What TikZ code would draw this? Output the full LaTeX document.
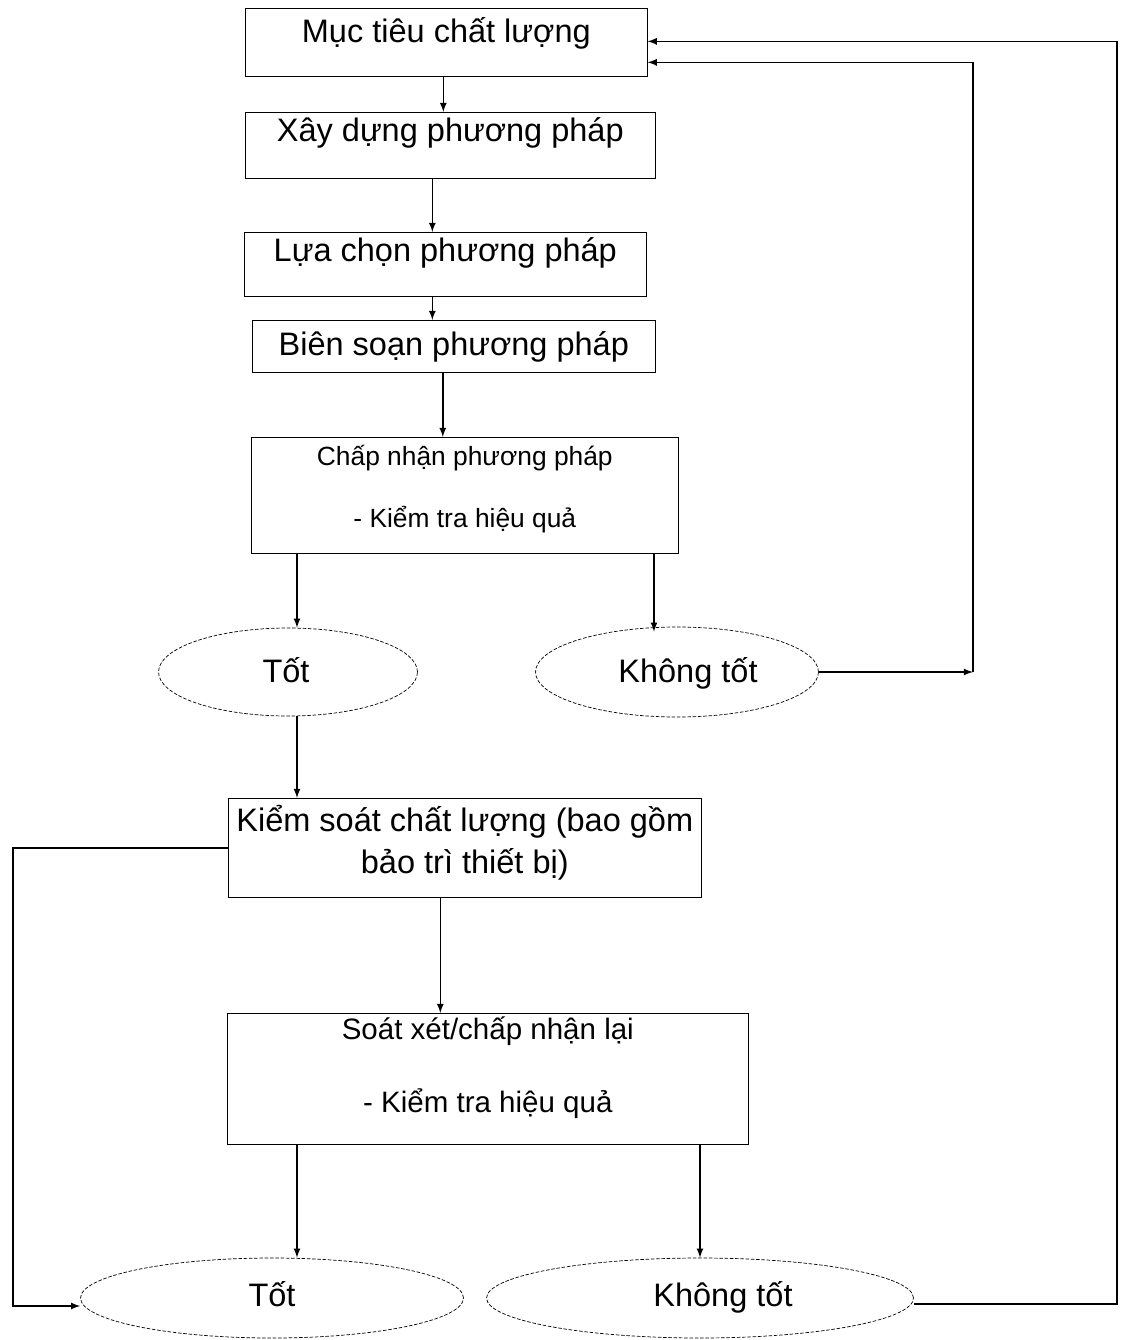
\documentclass[tikz,border=0pt]{standalone}
\usepackage{fontspec}
\setmainfont{Liberation Sans}
\usetikzlibrary{shapes.geometric}
% one line of text, baseline lifted by #2 above the node centre, shifted right by #1
\newcommand{\tline}[3][0cm]{\makebox[0pt]{\hspace{#1}\hspace{#1}\raisebox{#2}[0pt][0pt]{#3}}}

\begin{document}
\begin{tikzpicture}[x=0.02cm,y=-0.02cm]%
  \tikzstyle{boxn}=[rectangle,draw,inner sep=0,anchor=north west,font=\fontsize{18.5}{22}\selectfont]
  \tikzstyle{boxs}=[boxn,font=\fontsize{15}{18}\selectfont]
  \tikzstyle{elln}=[ellipse,draw,dash pattern=on 2pt off 1pt,inner sep=0,font=\fontsize{18.5}{22}\selectfont]
  \tikzstyle{arr}=[draw,line width=0.8pt,-latex]
  \useasboundingbox (0,0) rectangle (1121,1340);
  % boxes
  \node(mt)[boxn,minimum width=8.04cm,minimum height=1.36cm] at (245,8) {\tline{0cm}{Mục tiêu chất lượng}};
  \node(xd)[boxn,minimum width=8.2cm,minimum height=1.32cm] at (245,112) {\tline{0.07cm}{Xây dựng phương pháp}};
  \node(lc)[boxn,minimum width=8.04cm,minimum height=1.28cm] at (244,232) {\tline{0.05cm}{Lựa chọn phương pháp}};
  \node(bs)[boxn,minimum width=8.06cm,minimum height=1.04cm] at (252,320) {\tline{-0.18cm}{Biên soạn phương pháp}};
  \node(cn)[boxs,minimum width=8.54cm,minimum height=2.32cm] at (251,437)
    {\tline{0.6cm}{Chấp nhận phương pháp}\tline{-0.64cm}{- Kiểm tra hiệu quả}};
  \node(ks)[boxn,minimum width=9.46cm,minimum height=1.98cm] at (228,798)
    {\tline{0.33cm}{Kiểm soát chất lượng (bao gồm}\tline{-0.51cm}{bảo trì thiết bị)}};
  \node(sx)[boxs,font=\fontsize{16.8}{20}\selectfont,minimum width=10.42cm,minimum height=2.62cm] at (227,1013)
    {\tline{0.79cm}{Soát xét/chấp nhận lại}\tline{-0.67cm}{- Kiểm tra hiệu quả}};
  % ellipses
  \node(t1)[elln,minimum width=5.18cm,minimum height=1.76cm] at (288,672) {\tline[-0.04cm]{-0.2cm}{Tốt}};
  \node(k1)[elln,minimum width=5.66cm,minimum height=1.8cm] at (677,672) {\tline[0.22cm]{-0.2cm}{Không tốt}};
  \node(t2)[elln,minimum width=7.66cm,minimum height=1.6cm] at (272,1298) {\tline{-0.16cm}{Tốt}};
  \node(k2)[elln,minimum width=8.54cm,minimum height=1.6cm] at (700,1298) {\tline[0.46cm]{-0.16cm}{Không tốt}};
  \coordinate(c1) at (973,672);
  \coordinate(c2) at (13,1306);
  \coordinate(c3) at (1117,1304);
  % arrows
  \draw[arr] ([xshift=-0.06cm]mt.south) -- ([xshift=-0.06cm]mt.south |- xd.north);
  \draw[arr] ([xshift=-0.36cm]xd.south) -- ([xshift=-0.36cm]xd.south |- lc.north);
  \draw[arr] ([xshift=-0.26cm]lc.south) -- ([xshift=-0.26cm]lc.south |- bs.north);
  \draw[arr] ([xshift=-0.22cm]bs.south) -- ([xshift=-0.22cm]bs.south |- cn.north);
  \draw[arr] ([xshift=0.18cm]cn.south -| t1.north) -- ([xshift=0.18cm]t1.north);
  \draw[arr] ([xshift=-0.46cm]cn.south -| k1.north) -- ([xshift=-0.46cm,yshift=-0.1cm]k1.north);
  \draw[arr] ([xshift=0.18cm]t1.south) -- ([xshift=0.18cm]t1.south |- ks.north);
  \draw[arr] ([xshift=-0.49cm]ks.south) -- ([xshift=-0.49cm]ks.south |- sx.north);
  \draw[arr] (sx.south -| 297,0) -- (t2.north -| 297,0);
  \draw[arr] (sx.south -| k2.north) -- (k2.north);
  % feedback lines
  \draw[arr] (k1.east) -- (c1);
  \draw[arr] (c1) |- ([yshift=-0.4cm]mt.east);
  \draw[arr] (ks.west) -| (c2) -- (c2 -| t2.west);
  \draw[arr] (k2.east |- c3) -- (c3) |- ([yshift=0.02cm]mt.east);
\end{tikzpicture}
\end{document}
